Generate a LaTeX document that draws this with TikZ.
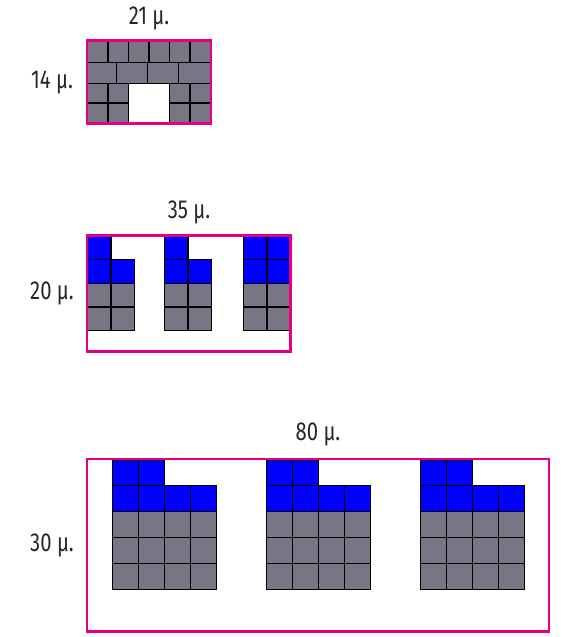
\documentclass[tikz,border=0pt]{standalone}
\usepackage{fontspec}
\setmainfont{Fira Sans}[FakeStretch=0.78]
\definecolor{framepink}{RGB}{230,0,126}
\definecolor{cellgrey}{RGB}{122,117,133}
\definecolor{cellblue}{RGB}{0,0,255}
\tikzset{
  frame/.style={draw=framepink, line width=2.6pt},
  greycell/.style={fill=cellgrey},
  bluecell/.style={fill=cellblue},
  gridedge/.style={draw=black, line width=1.1pt},
  dimlabel/.style={font=\fontsize{26}{30}\selectfont, inner sep=0pt, text=black!85}
}
\begin{document}
\begin{tikzpicture}[x=1pt,y=-1pt]
\useasboundingbox (0,0) rectangle (568,637);
% ================= fills =================
% figure 1
\foreach \i in {0,...,5} {\path[greycell] (87.5+20.5*\i,41) rectangle ++(20.5,21.5);}
\path[greycell] (87.5,62.5) rectangle (210.5,83.5);
\path[greycell] (87.5,83.5) rectangle (128.5,122.5);
\path[greycell] (169.5,83.5) rectangle (210.5,122.5);
% figure 2
\foreach \gx/\tb in {87.5/1,164.5/1,243.5/2} {
  \path[bluecell] (\gx,236.5) rectangle ++(23.5,23);
  \ifnum\tb=2 \path[bluecell] (\gx+23.5,236.5) rectangle ++(23.5,23); \fi
  \path[bluecell] (\gx,259.5) rectangle ++(47,24);
  \path[greycell] (\gx,283.5) rectangle ++(47,47);
}
% figure 3
\foreach \gx in {112.5,266.5,420.5} {
  \path[bluecell] (\gx,460.5) rectangle ++(52,25);
  \path[bluecell] (\gx,485.5) rectangle ++(104,26);
  \path[greycell] (\gx,511.5) rectangle ++(104,78);
}
% ================= grid lines (on top) =================
\foreach \i in {0,...,5} {\path[gridedge] (87.5+20.5*\i,41) rectangle ++(20.5,21.5);}
\foreach \a/\b in {87.5/116.5,116.5/147.5,147.5/178.5,178.5/210.5} {\path[gridedge] (\a,62.5) rectangle (\b,83.5);}
\foreach \i in {0,1,4,5} {\foreach \j in {0,1} {\path[gridedge] (87.5+20.5*\i,83.5+19.5*\j) rectangle ++(20.5,19.5);}}
\foreach \gx/\tb in {87.5/1,164.5/1,243.5/2} {
  \path[gridedge] (\gx,236.5) rectangle ++(23.5,23);
  \ifnum\tb=2 \path[gridedge] (\gx+23.5,236.5) rectangle ++(23.5,23); \fi
  \foreach \c in {0,1} {
    \path[gridedge] (\gx+23.5*\c,259.5) rectangle ++(23.5,24);
    \foreach \r in {0,1} {\path[gridedge] (\gx+23.5*\c,283.5+23.5*\r) rectangle ++(23.5,23.5);}
  }
}
\foreach \gx in {112.5,266.5,420.5} {
  \foreach \c in {0,1} {\path[gridedge] (\gx+26*\c,460.5) rectangle ++(26,25);}
  \foreach \c in {0,...,3} {
    \path[gridedge] (\gx+26*\c,485.5) rectangle ++(26,26);
    \foreach \r in {0,1,2} {\path[gridedge] (\gx+26*\c,511.5+26*\r) rectangle ++(26,26);}
  }
}
% ================= frames and labels =================
\draw[frame] (87,40.5) rectangle (211,123.5);
\draw[frame] (87,235.5) rectangle (290.5,351.5);
\draw[frame] (87,459) rectangle (549,631.5);
\node[dimlabel] (w1) at (149,18) {21 µ.};
\node[dimlabel] (h1) at (52,82) {14 µ.};
\node[dimlabel] (w2) at (189,212) {35 µ.};
\node[dimlabel] (h2) at (52,293) {20 µ.};
\node[dimlabel] (w3) at (318,434) {80 µ.};
\node[dimlabel] (h3) at (52,545) {30 µ.};
\end{tikzpicture}
\end{document}
